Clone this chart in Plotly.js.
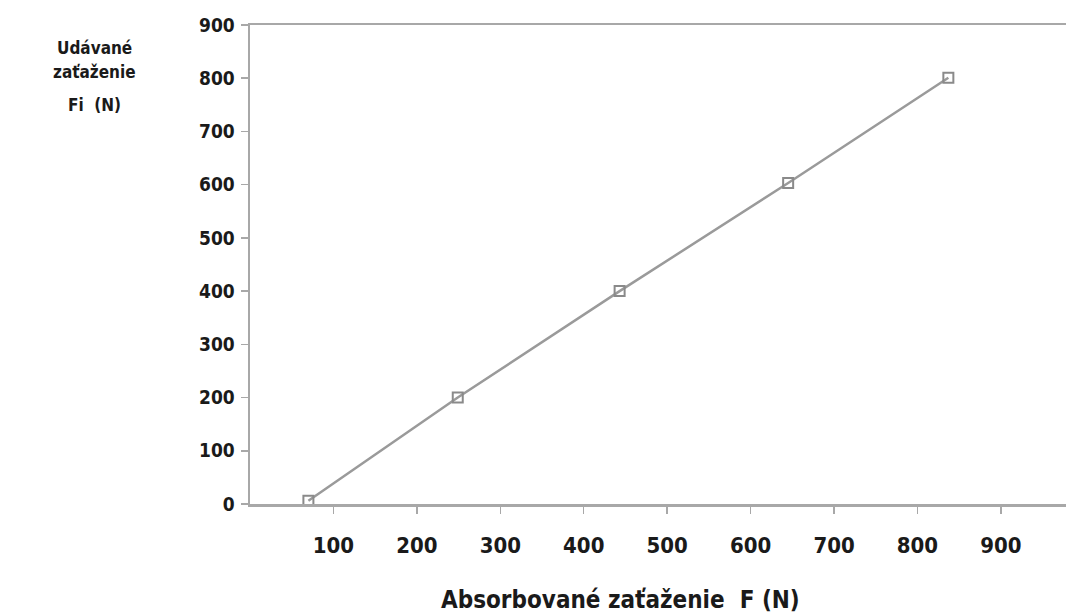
<!DOCTYPE html>
<html>
<head>
<meta charset="utf-8">
<script src="https://cdn.plot.ly/plotly-3.0.1.min.js"></script>
<style>
  html, body { margin: 0; padding: 0; background: #fff; }
  #chart { width: 1066px; height: 616px; }
</style>
</head>
<body>
<div id="chart"></div>
<script>
// Data
const absorbedLoad = [70, 249, 443, 645, 837];   // F (N)
const indicatedLoad = [6, 200, 400, 603, 801];   // Fi (N)

const xTickVals = [100, 200, 300, 400, 500, 600, 700, 800, 900];
const yTickVals = [0, 100, 200, 300, 400, 500, 600, 700, 800, 900];

const xTitle = "Absorbované zaťaženie  F (N)";
const yTitleLines = ["Udávané", "zaťaženie", "Fi  (N)"];

const FONT = "DejaVu Sans Condensed, sans-serif";
const textColor = "#1a1a1a";
const axisColor = "#a8a8a8";

const trace = {
  x: absorbedLoad,
  y: indicatedLoad,
  type: "scatter",
  mode: "lines+markers",
  line: { color: "#9a9a9a", width: 2.5 },
  marker: { symbol: "square-open", size: 10, color: "#8a8a8a", line: { width: 2, color: "#8a8a8a" } },
  showlegend: false,
  hoverinfo: "skip"
};

function ann(text, px, py, size) {
  return {
    text: text, xref: "paper", yref: "paper",
    x: (px - 250) / 816, y: (504 - py) / 479,
    xanchor: "center", yanchor: "middle", showarrow: false,
    font: { family: FONT, size: size, color: textColor, weight: "bold" }
  };
}

const layout = {
  width: 1066,
  height: 616,
  margin: { l: 250, r: 0, t: 25, b: 112 },
  paper_bgcolor: "#ffffff",
  plot_bgcolor: "#ffffff",
  font: { family: FONT, size: 18, color: textColor, weight: "bold" },
  xaxis: {
    range: [0, 978],
    tickvals: xTickVals,
    ticktext: xTickVals.map(String),
    showgrid: false,
    zeroline: false,
    showline: true,
    mirror: true,
    linecolor: axisColor,
    linewidth: 2.5,
    ticks: "outside",
    ticklen: 7,
    tickwidth: 1.5,
    tickcolor: axisColor,
    ticklabelstandoff: 13,
    tickfont: { family: FONT, size: 22, color: textColor, weight: "bold" },
    fixedrange: true
  },
  yaxis: {
    range: [0, 900],
    tickvals: yTickVals,
    ticktext: yTickVals.map(String),
    showgrid: false,
    zeroline: false,
    showline: true,
    linecolor: axisColor,
    linewidth: 2.5,
    ticks: "outside",
    ticklen: 7,
    tickwidth: 1.5,
    tickcolor: axisColor,
    ticklabelstandoff: 2,
    tickfont: { family: FONT, size: 19, color: textColor, weight: "bold" },
    fixedrange: true
  },
  annotations: [
    ann(xTitle, 620, 600, 24),
    ann(yTitleLines[0], 94, 48, 17),
    ann(yTitleLines[1], 94, 72, 17),
    ann(yTitleLines[2], 94, 105, 17)
  ]
};

Plotly.newPlot("chart", [trace], layout, { displayModeBar: false, staticPlot: true });
</script>
</body>
</html>
